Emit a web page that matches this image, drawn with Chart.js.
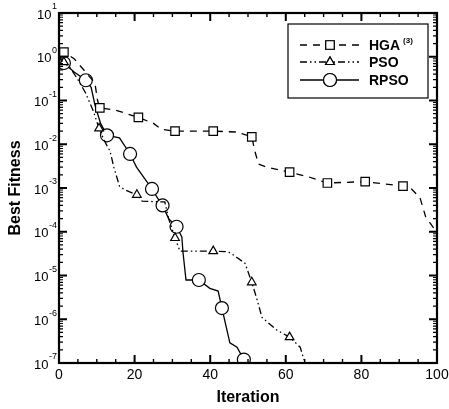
<!DOCTYPE html>
<html>
<head>
<meta charset="utf-8">
<script src="https://cdn.jsdelivr.net/npm/chart.js@4.4.1/dist/chart.umd.min.js"></script>
<style>
body { margin: 0; background: #fff; }
#wrap { width: 449px; height: 409px; }
</style>
</head>
<body>
<div id="wrap"><canvas id="fitChart" width="449" height="409"></canvas></div>
<script>
// values
const hgaX = [0, 1.3, 4, 7, 9.5, 10.2, 10.8, 15, 21, 25, 27, 30.7, 40.8, 47, 51, 51.8, 52.8, 55, 61, 66, 71, 81, 91, 93, 95.5, 97, 99.5, 100];
const hgaY = [1.3, 1.28, 0.9, 0.45, 0.25, 0.1, 0.068, 0.06, 0.041, 0.03, 0.022, 0.02, 0.02, 0.019, 0.0148, 0.007, 0.0035, 0.003, 0.0023, 0.0018, 0.0013, 0.0014, 0.0011, 0.001, 0.0006, 0.00022, 0.00011, 0.0001];
const hgaMarks = [1.3, 10.8, 21, 30.7, 40.8, 51, 61, 71, 81, 91];

const psoX = [0, 1.3, 3, 5, 7, 9, 10.6, 12, 13.5, 14.5, 16, 17.5, 20.6, 22, 28, 29, 30.7, 32, 40.8, 44.7, 46.5, 49.2, 51, 52.4, 53.7, 57.7, 61, 63.8, 65];
const psoY = [0.95, 0.75, 0.55, 0.3, 0.15, 0.06, 0.023, 0.012, 0.007, 0.003, 0.0011, 0.0009, 0.0007, 0.0005, 0.00048, 0.0002, 0.000072, 0.000036, 0.000036, 0.000035, 0.000028, 0.000019, 0.000007, 0.0000028, 0.0000011, 0.00000056, 0.00000039, 0.00000023, 0.000000105];
const psoMarks = [1.3, 10.6, 20.6, 30.7, 40.8, 51, 61];

const rpsoX = [0, 1.3, 4, 7.1, 8.5, 9.5, 11, 12.7, 16, 18.8, 20.5, 23, 24.6, 26, 27.4, 29, 31.1, 32.5, 32.8, 33.6, 37, 39.9, 42.1, 43.1, 45.2, 47.1, 48.9, 49.7];
const rpsoY = [0.8, 0.72, 0.45, 0.29, 0.2, 0.08, 0.03, 0.016, 0.014, 0.006, 0.003, 0.0015, 0.00095, 0.0006, 0.0004, 0.0002, 0.00013, 0.000076, 0.000034, 0.0000079, 0.0000079, 0.0000051, 0.0000044, 0.0000018, 0.00000029, 0.00000023, 0.00000012, 0.0000001];
const rpsoMarks = [1.3, 7.1, 12.7, 18.8, 24.6, 27.4, 31.1, 37, 43.1, 48.9];

const seriesNames = ['HGA', 'PSO', 'RPSO'];
const xTickValues = [0, 20, 40, 60, 80, 100];
const yDecades = [-7, -6, -5, -4, -3, -2, -1, 0, 1];

const dashes = [[7, 6], [7, 3, 1.5, 3, 1.5, 3], []];
const styles = ['rect', 'triangle', 'circle'];
const radii = [6, 5, 6.5];

function toPoints(xs, ys) {
    return xs.map((x, i) => ({ x: x, y: ys[i] }));
}

function markRadius(marks, r) {
    return ctx => (ctx.raw && marks.includes(ctx.raw.x)) ? r : 0;
}

function makeSet(i, xs, ys, marks) {
    return {
        label: seriesNames[i],
        data: toPoints(xs, ys),
        borderColor: '#000',
        borderWidth: 1.3,
        borderDash: dashes[i],
        tension: 0,
        pointStyle: styles[i],
        pointRadius: markRadius(marks, radii[i]),
        pointHoverRadius: markRadius(marks, radii[i]),
        pointBorderColor: '#000',
        pointBorderWidth: 1.2,
        pointBackgroundColor: '#fff'
    };
}

function drawMarker(ctx, style, x, y, r) {
    ctx.save();
    ctx.setLineDash([]);
    ctx.fillStyle = '#fff';
    ctx.strokeStyle = '#000';
    ctx.lineWidth = 1.2;
    Chart.helpers.drawPoint(ctx, { pointStyle: style, rotation: 0, radius: r, borderWidth: 1.2 }, x, y);
    ctx.fill();
    ctx.stroke();
    ctx.restore();
}

const framePlugin = {
    id: 'frame',
    afterDraw(chart) {
        const ctx = chart.ctx;
        const a = chart.chartArea;
        const xs = chart.scales.x, ys = chart.scales.y;
        ctx.save();
        ctx.strokeStyle = '#000';
        ctx.setLineDash([]);

        // inward ticks, x
        for (let v = 0; v <= 100; v += 5) {
            const px = xs.getPixelForValue(v);
            const major = v % 20 === 0;
            const len = major ? 8 : 4;
            ctx.lineWidth = major ? 2 : 1.4;
            ctx.beginPath();
            ctx.moveTo(px, a.bottom); ctx.lineTo(px, a.bottom - len);
            ctx.moveTo(px, a.top); ctx.lineTo(px, a.top + len);
            ctx.stroke();
        }
        // inward ticks, y
        yDecades.forEach(d => {
            const steps = d < 1 ? [1, 2, 3, 4, 5, 6, 7, 8, 9] : [1];
            steps.forEach(k => {
                const py = ys.getPixelForValue(k * Math.pow(10, d));
                const len = k === 1 ? 8 : 4;
                ctx.lineWidth = k === 1 ? 2 : 1.2;
                ctx.beginPath();
                ctx.moveTo(a.left, py); ctx.lineTo(a.left + len, py);
                ctx.moveTo(a.right, py); ctx.lineTo(a.right - len, py);
                ctx.stroke();
            });
        });

        // frame
        ctx.lineWidth = 2.2;
        ctx.strokeRect(a.left, a.top, a.right - a.left, a.bottom - a.top);

        // x tick labels
        ctx.fillStyle = '#000';
        ctx.font = '14px "Liberation Sans", Arial, sans-serif';
        ctx.textAlign = 'center';
        ctx.textBaseline = 'middle';
        xTickValues.forEach(v => {
            ctx.fillText(String(v), xs.getPixelForValue(v), 375);
        });

        // y tick labels: 10 with raised exponent
        yDecades.forEach(d => {
            const py = ys.getPixelForValue(Math.pow(10, d));
            const ex = String(d);
            ctx.font = '9px "Liberation Sans", Arial, sans-serif';
            const ew = ctx.measureText(ex).width;
            const right = 57;
            ctx.textAlign = 'left';
            ctx.textBaseline = 'middle';
            ctx.fillText(ex, right - ew, py - 6);
            ctx.font = '13px "Liberation Sans", Arial, sans-serif';
            ctx.textAlign = 'right';
            ctx.fillText('10', right - ew - 0.5, py + 2);
        });

        // axis titles
        ctx.font = 'bold 16px "Liberation Sans", Arial, sans-serif';
        ctx.textAlign = 'center';
        ctx.textBaseline = 'middle';
        ctx.fillText('Iteration', (a.left + a.right) / 2, 398);
        ctx.save();
        ctx.translate(16, (a.top + a.bottom) / 2);
        ctx.rotate(-Math.PI / 2);
        ctx.fillText('Best Fitness', 0, 0);
        ctx.restore();

        // legend box
        ctx.lineWidth = 1.2;
        ctx.strokeRect(288, 24, 140, 74);
        const rows = [45, 62, 80];
        rows.forEach((ry, i) => {
            ctx.save();
            ctx.lineWidth = 1.3;
            ctx.setLineDash(dashes[i]);
            ctx.beginPath();
            ctx.moveTo(300, ry); ctx.lineTo(359, ry);
            ctx.stroke();
            ctx.restore();
            drawMarker(ctx, styles[i], 330, ry, radii[i]);
            ctx.fillStyle = '#000';
            ctx.font = 'bold 14px "Liberation Sans", Arial, sans-serif';
            ctx.textAlign = 'left';
            ctx.textBaseline = 'middle';
            ctx.fillText(seriesNames[i], 369, ry + 1);
            if (i === 0) {
                const w = ctx.measureText(seriesNames[i]).width;
                ctx.font = 'bold 8px "Liberation Sans", Arial, sans-serif';
                ctx.fillText('(3)', 369 + w + 3, ry - 4);
            }
        });
        ctx.restore();
    }
};

new Chart(document.getElementById('fitChart'), {
    type: 'line',
    data: {
        datasets: [
            makeSet(0, hgaX, hgaY, hgaMarks),
            makeSet(1, psoX, psoY, psoMarks),
            makeSet(2, rpsoX, rpsoY, rpsoMarks)
        ]
    },
    options: {
        responsive: false,
        animation: false,
        layout: { padding: { top: 13, right: 12, left: 0, bottom: 0 } },
        plugins: {
            legend: { display: false },
            tooltip: { enabled: false }
        },
        scales: {
            x: {
                type: 'linear',
                min: 0,
                max: 100,
                grid: { display: false },
                border: { display: false },
                ticks: { display: false },
                afterFit: s => { s.height = 46; }
            },
            y: {
                type: 'logarithmic',
                min: 1e-7,
                max: 10,
                grid: { display: false },
                border: { display: false },
                ticks: { display: false },
                afterFit: s => { s.width = 59; }
            }
        }
    },
    plugins: [framePlugin]
});
</script>
</body>
</html>
